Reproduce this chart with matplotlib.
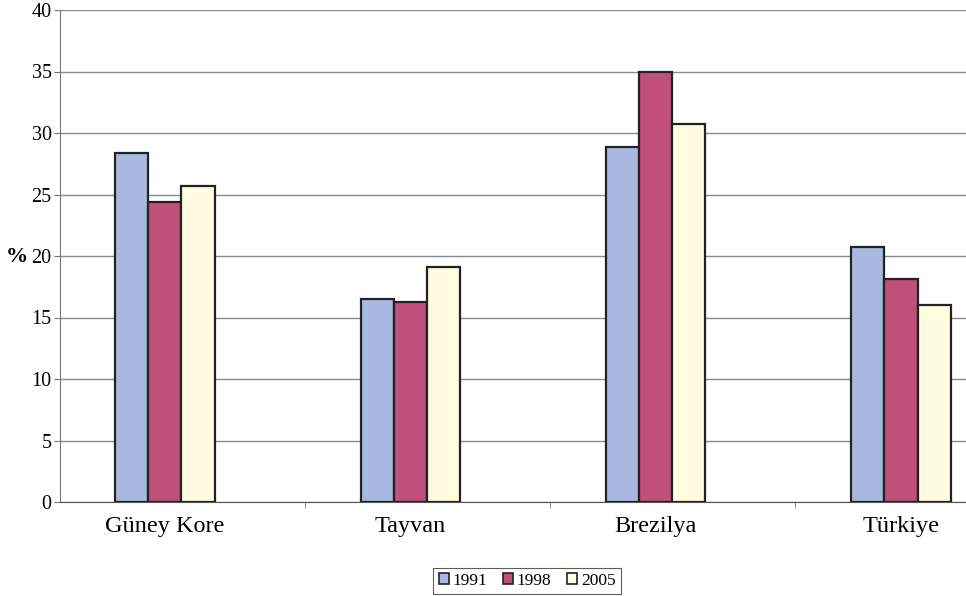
import numpy as np
import matplotlib
matplotlib.use("Agg")
import matplotlib.pyplot as plt

countries = ["Güney Kore", "Tayvan", "Brezilya", "Türkiye"]
years = ["1991", "1998", "2005"]
v1991 = [28.4, 16.5, 28.9, 20.7]
v1998 = [24.4, 16.3, 35.0, 18.1]
v2005 = [25.7, 19.1, 30.7, 16.0]
yticks = [0, 5, 10, 15, 20, 25, 30, 35, 40]

series = [v1991, v1998, v2005]
colors = ["#A9B8E0", "#C0507A", "#FFFBE0"]

plt.rcParams["font.family"] = ["Liberation Serif", "DejaVu Serif"]

fig = plt.figure(figsize=(9.66, 5.96), dpi=100)
ax = fig.add_axes([60 / 966, 94 / 596, 906 / 966, 492 / 596])

x = np.arange(len(countries))
width = 0.135
for i, (vals, col, lab) in enumerate(zip(series, colors, years)):
    ax.bar(x + (i - 1) * width, vals, width, color=col, edgecolor="#222222",
           linewidth=1.6, label=lab, zorder=3)

ax.set_xlim(-0.4275, 3.265)
ax.set_ylim(0, 40)
ax.set_yticks(yticks)
ax.set_yticklabels([str(t) for t in yticks], fontsize=14.5)
ax.yaxis.grid(True, color="#8a8a8a", linewidth=1.0, zorder=0)
ax.set_axisbelow(True)

ax.set_xticks(x)
ax.set_xticklabels(countries, fontsize=17.5)
ax.tick_params(axis="x", length=0, pad=10)
ax.set_xticks(x[:-1] + 0.57, minor=True)
ax.tick_params(axis="x", which="minor", length=4, color="#777777")
ax.tick_params(axis="y", length=4, color="#777777", pad=2)

for s in ["top", "right"]:
    ax.spines[s].set_visible(False)
ax.spines["left"].set_color("#777777")
ax.spines["bottom"].set_color("#555555")

# y-axis unit label, placed left of the tick labels
fig.text(17 / 966, 1 - 257 / 596, "%", fontsize=16, fontweight="bold",
         ha="center", va="center")

leg = fig.legend(loc="center", bbox_to_anchor=(527 / 966, 15 / 596), ncol=3,
                 fontsize=12.5, frameon=True, fancybox=False, edgecolor="#333333",
                 handlelength=0.6, handleheight=0.6, handletextpad=0.2,
                 columnspacing=0.9, borderpad=0.3)
leg.get_frame().set_linewidth(0.8)
for h in leg.legend_handles:
    h.set_linewidth(1.2)

fig.savefig("out.png", dpi=100)
